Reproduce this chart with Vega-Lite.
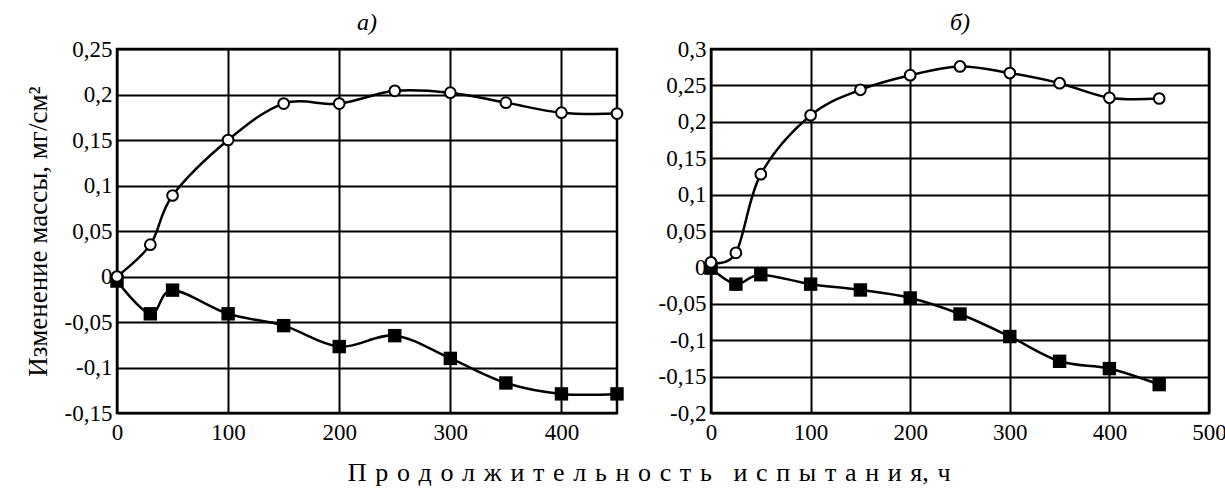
{
  "$schema": "https://vega.github.io/schema/vega-lite/v6.json",
  "padding": {"left": 22, "top": 9, "right": 0, "bottom": 0},
  "background": "white",
  "config": {
    "font": "Liberation Serif",
    "axis": {"labelFont": "Liberation Serif", "labelFontSize": 23, "labelColor": "black", "titleFont": "Liberation Serif", "titleFontSize": 27, "titleFontWeight": "normal", "titleColor": "black", "gridColor": "black", "gridWidth": 2, "gridOpacity": 1, "ticks": false, "domain": false, "labelFlush": false},
    "axisX": {"labelPadding": 8},
    "axisY": {"labelPadding": 5},
    "view": {"stroke": "black", "strokeWidth": 2.5},
    "title": {"font": "Liberation Serif", "fontSize": 24, "fontWeight": "normal", "color": "black"}
  },
  "datasets": {
    "d": [
      {"panel": "a", "series": "o", "t": 0, "dm": 0},
      {"panel": "a", "series": "o", "t": 30, "dm": 0.035},
      {"panel": "a", "series": "o", "t": 50, "dm": 0.089},
      {"panel": "a", "series": "o", "t": 100, "dm": 0.15},
      {"panel": "a", "series": "o", "t": 150, "dm": 0.19},
      {"panel": "a", "series": "o", "t": 200, "dm": 0.19},
      {"panel": "a", "series": "o", "t": 250, "dm": 0.204},
      {"panel": "a", "series": "o", "t": 300, "dm": 0.202},
      {"panel": "a", "series": "o", "t": 350, "dm": 0.191},
      {"panel": "a", "series": "o", "t": 400, "dm": 0.18},
      {"panel": "a", "series": "o", "t": 450, "dm": 0.179},
      {"panel": "a", "series": "s", "t": 0, "dm": -0.005},
      {"panel": "a", "series": "s", "t": 30, "dm": -0.041},
      {"panel": "a", "series": "s", "t": 50, "dm": -0.015},
      {"panel": "a", "series": "s", "t": 100, "dm": -0.041},
      {"panel": "a", "series": "s", "t": 150, "dm": -0.054},
      {"panel": "a", "series": "s", "t": 200, "dm": -0.077},
      {"panel": "a", "series": "s", "t": 250, "dm": -0.065},
      {"panel": "a", "series": "s", "t": 300, "dm": -0.09},
      {"panel": "a", "series": "s", "t": 350, "dm": -0.117},
      {"panel": "a", "series": "s", "t": 400, "dm": -0.129},
      {"panel": "a", "series": "s", "t": 450, "dm": -0.129},
      {"panel": "b", "series": "o", "t": 0, "dm": 0.007},
      {"panel": "b", "series": "o", "t": 25, "dm": 0.02},
      {"panel": "b", "series": "o", "t": 50, "dm": 0.128},
      {"panel": "b", "series": "o", "t": 100, "dm": 0.209},
      {"panel": "b", "series": "o", "t": 150, "dm": 0.244},
      {"panel": "b", "series": "o", "t": 200, "dm": 0.264},
      {"panel": "b", "series": "o", "t": 250, "dm": 0.276},
      {"panel": "b", "series": "o", "t": 300, "dm": 0.267},
      {"panel": "b", "series": "o", "t": 350, "dm": 0.253},
      {"panel": "b", "series": "o", "t": 400, "dm": 0.233},
      {"panel": "b", "series": "o", "t": 450, "dm": 0.232},
      {"panel": "b", "series": "s", "t": 0, "dm": -0.001},
      {"panel": "b", "series": "s", "t": 25, "dm": -0.023},
      {"panel": "b", "series": "s", "t": 50, "dm": -0.01},
      {"panel": "b", "series": "s", "t": 100, "dm": -0.023},
      {"panel": "b", "series": "s", "t": 150, "dm": -0.031},
      {"panel": "b", "series": "s", "t": 200, "dm": -0.042},
      {"panel": "b", "series": "s", "t": 250, "dm": -0.064},
      {"panel": "b", "series": "s", "t": 300, "dm": -0.095},
      {"panel": "b", "series": "s", "t": 350, "dm": -0.129},
      {"panel": "b", "series": "s", "t": 400, "dm": -0.139},
      {"panel": "b", "series": "s", "t": 450, "dm": -0.161}
    ]
  },
  "title": {"text": "П\u00a0\u200aр\u00a0\u200aо\u00a0\u200aд\u00a0\u200aо\u00a0\u200aл\u00a0\u200aж\u00a0\u200aи\u00a0\u200aт\u00a0\u200aе\u00a0\u200aл\u00a0\u200aь\u00a0\u200aн\u00a0\u200aо\u00a0\u200aс\u00a0\u200aт\u00a0\u200aь\u00a0\u00a0\u00a0\u200aи\u00a0\u200aс\u00a0\u200aп\u00a0\u200aы\u00a0\u200aт\u00a0\u200aа\u00a0\u200aн\u00a0\u200aи\u00a0\u200aя,\u00a0\u200aч", "orient": "bottom", "anchor": "middle", "fontSize": 26, "offset": 15, "dx": 24},
  "spacing": 28,
  "hconcat": [
    {
      "width": 500,
      "height": 364,
      "title": {"text": "а)", "fontStyle": "italic", "offset": 3},
      "data": {"name": "d"},
      "transform": [{"filter": "datum.panel == 'a'"}],
      "encoding": {
        "x": {"field": "t", "type": "quantitative", "scale": {"domain": [0, 450], "nice": false}, "axis": {"values": [0, 100, 200, 300, 400], "title": null}},
        "y": {"field": "dm", "type": "quantitative", "scale": {"domain": [-0.15, 0.25], "nice": false, "zero": false}, "axis": {"values": [-0.15, -0.1, -0.05, 0, 0.05, 0.1, 0.15, 0.2, 0.25], "labelExpr": "replace(toString(datum.value), '.', ',')", "title": "Изменение массы, мг/см²", "titlePadding": 12}}
      },
      "layer": [
        {"mark": {"type": "line", "interpolate": "cardinal", "color": "black", "strokeWidth": 2.5}, "encoding": {"detail": {"field": "series"}}},
        {"transform": [{"filter": "datum.series == 's'"}], "mark": {"type": "square", "color": "black", "size": 180, "opacity": 1}},
        {"transform": [{"filter": "datum.series == 'o'"}], "mark": {"type": "point", "shape": "circle", "filled": true, "fill": "white", "stroke": "black", "strokeWidth": 2, "size": 115, "opacity": 1}}
      ]
    },
    {
      "width": 498,
      "height": 364,
      "title": {"text": "б)", "fontStyle": "italic", "offset": 3},
      "data": {"name": "d"},
      "transform": [{"filter": "datum.panel == 'b'"}],
      "encoding": {
        "x": {"field": "t", "type": "quantitative", "scale": {"domain": [0, 500], "nice": false}, "axis": {"values": [0, 100, 200, 300, 400, 500], "title": null}},
        "y": {"field": "dm", "type": "quantitative", "scale": {"domain": [-0.2, 0.3], "nice": false, "zero": false}, "axis": {"values": [-0.2, -0.15, -0.1, -0.05, 0, 0.05, 0.1, 0.15, 0.2, 0.25, 0.3], "labelExpr": "replace(toString(datum.value), '.', ',')", "title": null}}
      },
      "layer": [
        {"mark": {"type": "line", "interpolate": "cardinal", "color": "black", "strokeWidth": 2.5}, "encoding": {"detail": {"field": "series"}}},
        {"transform": [{"filter": "datum.series == 's'"}], "mark": {"type": "square", "color": "black", "size": 180, "opacity": 1}},
        {"transform": [{"filter": "datum.series == 'o'"}], "mark": {"type": "point", "shape": "circle", "filled": true, "fill": "white", "stroke": "black", "strokeWidth": 2, "size": 115, "opacity": 1}}
      ]
    }
  ]
}
